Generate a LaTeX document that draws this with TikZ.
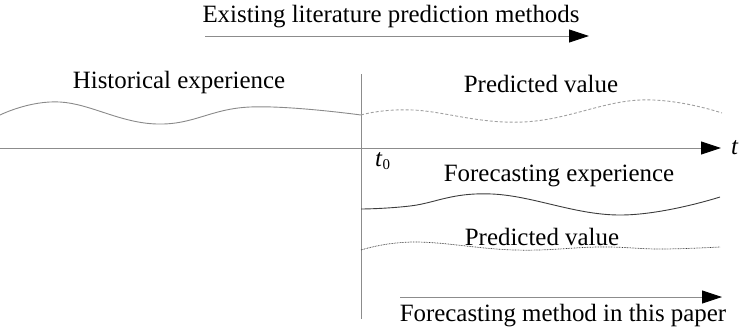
\documentclass[tikz,border=0pt]{standalone}
\usepackage{fontspec}
\setmainfont{Liberation Serif}
\usepackage{tikz}
\usetikzlibrary{arrows.meta, positioning}
\definecolor{axisgray}{HTML}{8C8C8C}
\definecolor{histgray}{HTML}{8A8A8A}
\definecolor{predgray}{HTML}{A0A0A0}
\definecolor{darkline}{HTML}{3C3C3C}
\tikzstyle{lbl}=[font=\fontsize{25}{29}\selectfont,inner sep=0pt,anchor=base]
\tikzstyle{arr}=[-{Triangle[length=20bp,width=13bp,color=black]},
  color=axisgray,line width=0.9bp]
\tikzstyle{wave}=[line width=0.9bp]

\begin{document}
\begin{tikzpicture}[x=1bp,y=-1bp]
  \useasboundingbox (0,0) rectangle (740,327);
  % labels
  \node[lbl] (lit) at (391,22) {Existing literature prediction methods};
  \node[lbl] (hist) at (179,88) {Historical experience};
  \node[lbl] (pred1) at (541,92) {Predicted value};
  \node[lbl] (fexp) at (559,181) {Forecasting experience};
  \node[lbl] (pred2) at (542,245) {Predicted value};
  \node[lbl] (ours) at (563,321) {Forecasting method in this paper};
  \node[lbl,anchor=base west] (t0) at (375,166)
    {\textit{t}\raisebox{-3bp}{\fontsize{15}{15}\selectfont 0}};
  % arrows
  \coordinate (litA) at (205,36);
  \coordinate (litB) at (589,36);
  \draw[arr] (litA) -- (litB);
  \coordinate (axA) at (0,148);
  \coordinate (axB) at (721,148);
  \draw[arr] (axA) -- (axB);
  \node[lbl,anchor=west,right=10bp of axB] (tlab) {\textit{t}};
  \coordinate (oursA) at (400,297);
  \coordinate (oursB) at (722,297);
  \draw[arr] (oursA) -- (oursB);
  % t0 line
  \coordinate (vtop) at (361,74);
  \coordinate (vbot) at (361,319);
  \draw[axisgray,line width=0.9bp] (vtop) -- (vbot);
  % curves
  \draw[wave,histgray] plot[smooth,tension=0.7] coordinates
    {(0,115) (60,102) (157,124) (250,107) (361,115)};
  \draw[wave,predgray,dash pattern=on 3bp off 2bp] plot[smooth,tension=0.7] coordinates
    {(361,115) (413,110) (523,122) (640,100) (722,113)};
  \draw[wave,darkline] plot[smooth,tension=0.7] coordinates
    {(361,209) (410,206) (492,194) (618,215) (720,197)};
  \draw[wave,darkline,line width=0.7bp,dash pattern=on 0.8bp off 0.8bp] plot[smooth,tension=0.7] coordinates
    {(361,250) (415,242) (515,250) (600,247) (660,249) (720,247)};
\end{tikzpicture}
\end{document}
